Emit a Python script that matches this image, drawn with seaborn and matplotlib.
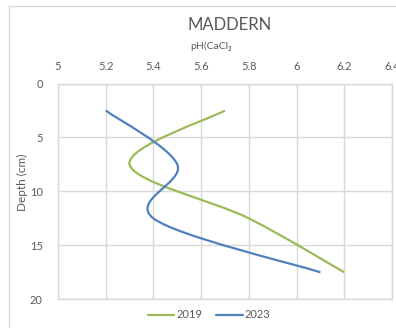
import numpy as np
import pandas as pd
import matplotlib
matplotlib.use("Agg")
import matplotlib.pyplot as plt
import seaborn as sns
from matplotlib.path import Path
from matplotlib.patches import PathPatch, Rectangle
from matplotlib.lines import Line2D

# Soil pH (CaCl2) profile at Maddern, sampled at mid-depths of 5 cm layers
depth = [2.5, 7.5, 12.5, 17.5]
ph_2019 = [5.7, 5.3, 5.8, 6.2]
ph_2023 = [5.2, 5.5, 5.4, 6.1]
years = ["2019", "2023"]
colors = ["#9BBB59", "#4F81BD"]
x_ticks = [5, 5.2, 5.4, 5.6, 5.8, 6, 6.2, 6.4]
y_ticks = [0, 5, 10, 15, 20]

df = pd.DataFrame({
    "Depth": depth * 2,
    "pH": ph_2019 + ph_2023,
    "Year": [years[0]] * len(depth) + [years[1]] * len(depth),
})

TEXT = "#595959"
GRID = "#d9d9d9"

sns.set_style("white")
plt.rcParams["font.family"] = ["Lato", "DejaVu Sans"]

W, H = 396, 328
fig = plt.figure(figsize=(W / 100, H / 100), dpi=100)
ax = fig.add_axes([58 / W, 1 - 299.3 / H, (392 - 58) / W, (299.3 - 83.5) / H])

sns.lineplot(data=df, x="pH", y="Depth", hue="Year", palette=colors,
             estimator=None, sort=False, orient="y", legend=False, ax=ax)


def smooth_path(xs, ys):
    """Cubic Bezier through the points (Catmull-Rom style smoothing)."""
    pts = np.column_stack([xs, ys])
    n = len(pts)
    verts = [pts[0]]
    codes = [Path.MOVETO]
    for i in range(n - 1):
        p0 = pts[max(i - 1, 0)]
        p1 = pts[i]
        p2 = pts[i + 1]
        p3 = pts[min(i + 2, n - 1)]
        c1 = p1 + (p2 - p0) / 6.0
        c2 = p2 - (p3 - p1) / 6.0
        verts += [c1, c2, p2]
        codes += [Path.CURVE4] * 3
    return Path(verts, codes)


# Replace the straight segments with smoothed curves
for line in list(ax.lines):
    xs, ys = line.get_xdata(), line.get_ydata()
    patch = PathPatch(smooth_path(xs, ys), facecolor="none",
                      edgecolor=line.get_color(), lw=1.6, zorder=3,
                      capstyle="butt")
    ax.add_patch(patch)
    line.remove()

ax.set_xlim(5, 6.4)
ax.set_ylim(20, 0)
ax.xaxis.tick_top()
ax.set_xticks(x_ticks)
ax.set_xticklabels([f"{v:g}" for v in x_ticks])
ax.set_yticks(y_ticks)
ax.set_yticklabels([str(v) for v in y_ticks])
ax.tick_params(axis="x", length=0, pad=8, labelsize=8, labelcolor=TEXT)
ax.tick_params(axis="y", length=0, pad=11, labelsize=8, labelcolor=TEXT)
ax.set_xlabel("")
ax.set_ylabel("")
ax.grid(True, color=GRID, lw=1)
ax.set_axisbelow(True)
for s in ax.spines.values():
    s.set_color(GRID)
    s.set_linewidth(1)

# Chart area border
fig.patches.append(Rectangle((8.5 / W, -0.1), 1.2, 1 - 5.5 / H + 0.1,
                             transform=fig.transFigure, fill=False,
                             edgecolor=GRID, lw=1))

fig.text(230 / W, 1 - 25 / H, "MADDERN", ha="center", va="center",
         fontsize=12, color=TEXT)
fig.text(211 / W, 1 - 46 / H, "pH(CaCl₂", ha="center", va="center",
         fontsize=7.5, color=TEXT)
fig.text(22 / W, 1 - 182 / H, "Depth (cm)", ha="center", va="center",
         rotation=90, fontsize=8.5, color=TEXT)

handles = [Line2D([], [], color=c, lw=1.6) for c in colors]
fig.legend(handles, years, loc="center", bbox_to_anchor=(209 / W, 1 - 315 / H),
           ncol=2, frameon=False, fontsize=8, labelcolor=TEXT,
           handlelength=2.4, handletextpad=0.2, columnspacing=1.2)

fig.savefig("out.png", dpi=100)
